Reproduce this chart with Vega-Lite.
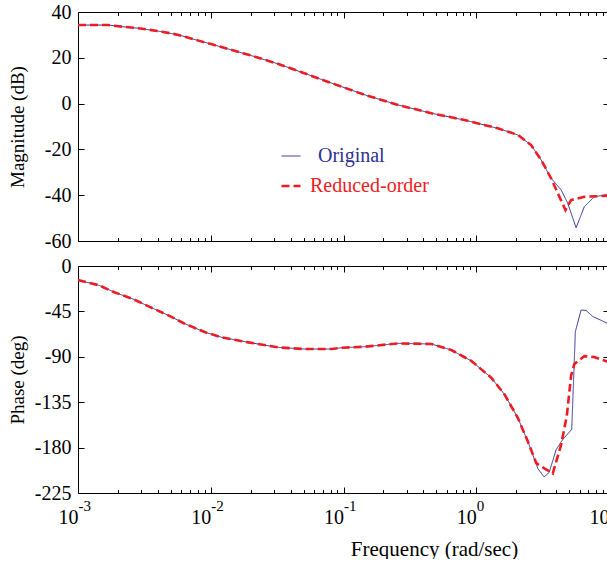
{
  "$schema": "https://vega.github.io/schema/vega-lite/v6.json",
  "padding": {"left": 8, "top": 2, "right": 0, "bottom": 0},
  "background": "white",
  "config": {
    "view": {"stroke": null},
    "font": "Liberation Serif",
    "axis": {
      "grid": false,
      "domainColor": "#000000",
      "tickColor": "#000000",
      "labelColor": "#000000",
      "titleColor": "#000000",
      "labelFont": "Liberation Serif",
      "titleFont": "Liberation Serif",
      "labelFontSize": 20,
      "titleFontSize": 19,
      "titleFontWeight": "normal",
      "domainWidth": 1,
      "tickWidth": 1,
      "labelFlush": false,
      "labelOverlap": false
    }
  },
  "datasets": {
    "mag": [
      {"f": 0.001, "v": 34.3, "s": "Original"},
      {"f": 0.0017, "v": 34.3, "s": "Original"},
      {"f": 0.00214, "v": 33.6, "s": "Original"},
      {"f": 0.00286, "v": 32.9, "s": "Original"},
      {"f": 0.00429, "v": 31.4, "s": "Original"},
      {"f": 0.00572, "v": 30.0, "s": "Original"},
      {"f": 0.00809, "v": 27.5, "s": "Original"},
      {"f": 0.0102, "v": 25.9, "s": "Original"},
      {"f": 0.0144, "v": 23.4, "s": "Original"},
      {"f": 0.0215, "v": 20.5, "s": "Original"},
      {"f": 0.0323, "v": 17.3, "s": "Original"},
      {"f": 0.0483, "v": 13.7, "s": "Original"},
      {"f": 0.0723, "v": 10.0, "s": "Original"},
      {"f": 0.0966, "v": 7.4, "s": "Original"},
      {"f": 0.145, "v": 3.8, "s": "Original"},
      {"f": 0.258, "v": -0.6, "s": "Original"},
      {"f": 0.459, "v": -4.2, "s": "Original"},
      {"f": 0.817, "v": -7.2, "s": "Original"},
      {"f": 1.455, "v": -10.8, "s": "Original"},
      {"f": 2.06, "v": -13.7, "s": "Original"},
      {"f": 2.59, "v": -18.1, "s": "Original"},
      {"f": 3.08, "v": -24.6, "s": "Original"},
      {"f": 3.66, "v": -32.6, "s": "Original"},
      {"f": 4.36, "v": -37.7, "s": "Original"},
      {"f": 4.89, "v": -43.5, "s": "Original"},
      {"f": 5.65, "v": -54.2, "s": "Original"},
      {"f": 6.52, "v": -45.0, "s": "Original"},
      {"f": 7.75, "v": -40.7, "s": "Original"},
      {"f": 10, "v": -39.6, "s": "Original"},
      {"f": 0.001, "v": 34.3, "s": "Reduced-order"},
      {"f": 0.0017, "v": 34.3, "s": "Reduced-order"},
      {"f": 0.00214, "v": 33.6, "s": "Reduced-order"},
      {"f": 0.00286, "v": 32.9, "s": "Reduced-order"},
      {"f": 0.00429, "v": 31.4, "s": "Reduced-order"},
      {"f": 0.00572, "v": 30.0, "s": "Reduced-order"},
      {"f": 0.00809, "v": 27.5, "s": "Reduced-order"},
      {"f": 0.0102, "v": 25.9, "s": "Reduced-order"},
      {"f": 0.0144, "v": 23.4, "s": "Reduced-order"},
      {"f": 0.0215, "v": 20.5, "s": "Reduced-order"},
      {"f": 0.0323, "v": 17.3, "s": "Reduced-order"},
      {"f": 0.0483, "v": 13.7, "s": "Reduced-order"},
      {"f": 0.0723, "v": 10.0, "s": "Reduced-order"},
      {"f": 0.0966, "v": 7.4, "s": "Reduced-order"},
      {"f": 0.145, "v": 3.8, "s": "Reduced-order"},
      {"f": 0.258, "v": -0.6, "s": "Reduced-order"},
      {"f": 0.459, "v": -4.2, "s": "Reduced-order"},
      {"f": 0.817, "v": -7.2, "s": "Reduced-order"},
      {"f": 1.455, "v": -10.8, "s": "Reduced-order"},
      {"f": 2.06, "v": -13.7, "s": "Reduced-order"},
      {"f": 2.59, "v": -18.1, "s": "Reduced-order"},
      {"f": 3.08, "v": -24.6, "s": "Reduced-order"},
      {"f": 3.66, "v": -32.6, "s": "Reduced-order"},
      {"f": 4.12, "v": -39.2, "s": "Reduced-order"},
      {"f": 4.7, "v": -46.5, "s": "Reduced-order"},
      {"f": 5.18, "v": -42.1, "s": "Reduced-order"},
      {"f": 6.52, "v": -40.7, "s": "Reduced-order"},
      {"f": 10, "v": -40.2, "s": "Reduced-order"}
    ],
    "phase": [
      {"f": 0.001, "v": -14, "s": "Original"},
      {"f": 0.00143, "v": -19, "s": "Original"},
      {"f": 0.0019, "v": -26.3, "s": "Original"},
      {"f": 0.00255, "v": -32.3, "s": "Original"},
      {"f": 0.0034, "v": -40, "s": "Original"},
      {"f": 0.0048, "v": -49, "s": "Original"},
      {"f": 0.0064, "v": -57.3, "s": "Original"},
      {"f": 0.0091, "v": -65.7, "s": "Original"},
      {"f": 0.0121, "v": -70.7, "s": "Original"},
      {"f": 0.0192, "v": -75.7, "s": "Original"},
      {"f": 0.0323, "v": -80.7, "s": "Original"},
      {"f": 0.0512, "v": -82.3, "s": "Original"},
      {"f": 0.0812, "v": -82.3, "s": "Original"},
      {"f": 0.0966, "v": -81, "s": "Original"},
      {"f": 0.145, "v": -80, "s": "Original"},
      {"f": 0.258, "v": -76.7, "s": "Original"},
      {"f": 0.459, "v": -77.3, "s": "Original"},
      {"f": 0.649, "v": -83.3, "s": "Original"},
      {"f": 0.916, "v": -94, "s": "Original"},
      {"f": 1.297, "v": -110.7, "s": "Original"},
      {"f": 1.633, "v": -127.3, "s": "Original"},
      {"f": 2.059, "v": -150.7, "s": "Original"},
      {"f": 2.449, "v": -174, "s": "Original"},
      {"f": 2.91, "v": -200.7, "s": "Original"},
      {"f": 3.24, "v": -209, "s": "Original"},
      {"f": 3.54, "v": -204.7, "s": "Original"},
      {"f": 4.0, "v": -182, "s": "Original"},
      {"f": 4.48, "v": -172, "s": "Original"},
      {"f": 5.24, "v": -162, "s": "Original"},
      {"f": 5.58, "v": -65, "s": "Original"},
      {"f": 6.16, "v": -43.7, "s": "Original"},
      {"f": 6.71, "v": -44, "s": "Original"},
      {"f": 7.54, "v": -50, "s": "Original"},
      {"f": 10, "v": -57.5, "s": "Original"},
      {"f": 0.001, "v": -14, "s": "Reduced-order"},
      {"f": 0.00143, "v": -19, "s": "Reduced-order"},
      {"f": 0.0019, "v": -26.3, "s": "Reduced-order"},
      {"f": 0.00255, "v": -32.3, "s": "Reduced-order"},
      {"f": 0.0034, "v": -40, "s": "Reduced-order"},
      {"f": 0.0048, "v": -49, "s": "Reduced-order"},
      {"f": 0.0064, "v": -57.3, "s": "Reduced-order"},
      {"f": 0.0091, "v": -65.7, "s": "Reduced-order"},
      {"f": 0.0121, "v": -70.7, "s": "Reduced-order"},
      {"f": 0.0192, "v": -75.7, "s": "Reduced-order"},
      {"f": 0.0323, "v": -80.7, "s": "Reduced-order"},
      {"f": 0.0512, "v": -82.3, "s": "Reduced-order"},
      {"f": 0.0812, "v": -82.3, "s": "Reduced-order"},
      {"f": 0.0966, "v": -81, "s": "Reduced-order"},
      {"f": 0.145, "v": -80, "s": "Reduced-order"},
      {"f": 0.258, "v": -76.7, "s": "Reduced-order"},
      {"f": 0.459, "v": -77.3, "s": "Reduced-order"},
      {"f": 0.649, "v": -83.3, "s": "Reduced-order"},
      {"f": 0.916, "v": -94, "s": "Reduced-order"},
      {"f": 1.297, "v": -110.7, "s": "Reduced-order"},
      {"f": 1.633, "v": -127.3, "s": "Reduced-order"},
      {"f": 2.059, "v": -150.7, "s": "Reduced-order"},
      {"f": 2.449, "v": -174, "s": "Reduced-order"},
      {"f": 2.83, "v": -195.3, "s": "Reduced-order"},
      {"f": 3.3, "v": -201, "s": "Reduced-order"},
      {"f": 3.77, "v": -205.7, "s": "Reduced-order"},
      {"f": 4.36, "v": -177, "s": "Reduced-order"},
      {"f": 4.81, "v": -148.7, "s": "Reduced-order"},
      {"f": 5.18, "v": -108.7, "s": "Reduced-order"},
      {"f": 5.49, "v": -97, "s": "Reduced-order"},
      {"f": 6.52, "v": -89.3, "s": "Reduced-order"},
      {"f": 7.75, "v": -90.3, "s": "Reduced-order"},
      {"f": 10, "v": -95.3, "s": "Reduced-order"}
    ]
  },
  "spacing": 25,
  "bounds": "flush",
  "resolve": {"scale": {"color": "independent", "strokeDash": "independent", "strokeWidth": "independent"}},
  "vconcat": [
    {
      "width": 531,
      "height": 229,
      "data": {"name": "mag"},
      "layer": [
        {
          "mark": {"type": "line", "clip": true},
          "encoding": {
            "x": {"field": "f", "type": "quantitative", "scale": {"type": "log", "domain": [0.001, 10]},
                  "axis": {"orient": "bottom", "values": [0.001, 0.01, 0.1, 1, 10], "labels": false, "tickSize": -6, "title": null}},
            "y": {"field": "v", "type": "quantitative", "scale": {"domain": [-60, 40]},
                  "axis": {"orient": "left", "values": [-60, -40, -20, 0, 20, 40], "tickSize": -6, "labelPadding": 13, "labelExpr": "'' + datum.value", "title": "Magnitude (dB)", "titleX": -51}},
            "color": {"field": "s", "type": "nominal", "scale": {"domain": ["Original", "Reduced-order"], "range": ["#2E3192", "#ED1C24"]},
                      "legend": {"orient": "none", "legendX": 202, "legendY": 134, "title": null, "symbolType": "stroke", "symbolSize": 361,
                                 "labelFont": "Liberation Serif", "labelFontSize": 20, "labelOffset": 8, "rowPadding": 9, "padding": 0,
                                 "encode": {"labels": {"update": {"fill": {"signal": "datum.value === 'Original' ? '#2E3192' : '#ED1C24'"}, "dx": {"signal": "datum.value === 'Original' ? 8 : 0"}}},
                                            "symbols": {"update": {"strokeWidth": {"signal": "datum.value === 'Original' ? 1 : 2.5"}}}}}},
            "strokeDash": {"field": "s", "type": "nominal", "scale": {"domain": ["Original", "Reduced-order"], "range": [[1, 0], [8, 4]]}},
            "strokeWidth": {"field": "s", "type": "nominal", "scale": {"domain": ["Original", "Reduced-order"], "range": [1, 2.6]}, "legend": null}
          }
        },
        {
          "mark": {"type": "line", "opacity": 0},
          "encoding": {
            "x": {"field": "f", "type": "quantitative", "scale": {"type": "log", "domain": [0.001, 10]},
                  "axis": {"orient": "top", "values": [0.001, 0.01, 0.1, 1, 10], "labels": false, "tickSize": -6, "title": null}},
            "y": {"field": "v", "type": "quantitative", "scale": {"domain": [-60, 40]},
                  "axis": {"orient": "right", "values": [-60, -40, -20, 0, 20, 40], "labels": false, "tickSize": -6, "title": null}}
          }
        },
        {
          "mark": {"type": "line", "opacity": 0},
          "encoding": {
            "x": {"field": "f", "type": "quantitative", "scale": {"type": "log", "domain": [0.001, 10]},
                  "axis": {"orient": "bottom", "values": [0.002, 0.003, 0.004, 0.005, 0.006, 0.007, 0.008, 0.009, 0.02, 0.03, 0.04, 0.05, 0.06, 0.07, 0.08, 0.09, 0.2, 0.3, 0.4, 0.5, 0.6, 0.7, 0.8, 0.9, 2, 3, 4, 5, 6, 7, 8, 9], "labels": false, "domain": false, "tickSize": -3.5, "title": null}},
            "y": {"field": "v", "type": "quantitative", "scale": {"domain": [-60, 40]}, "axis": null}
          }
        },
        {
          "mark": {"type": "line", "opacity": 0},
          "encoding": {
            "x": {"field": "f", "type": "quantitative", "scale": {"type": "log", "domain": [0.001, 10]},
                  "axis": {"orient": "top", "values": [0.002, 0.003, 0.004, 0.005, 0.006, 0.007, 0.008, 0.009, 0.02, 0.03, 0.04, 0.05, 0.06, 0.07, 0.08, 0.09, 0.2, 0.3, 0.4, 0.5, 0.6, 0.7, 0.8, 0.9, 2, 3, 4, 5, 6, 7, 8, 9], "labels": false, "domain": false, "tickSize": -3.5, "title": null}},
            "y": {"field": "v", "type": "quantitative", "scale": {"domain": [-60, 40]}, "axis": null}
          }
        }
      ],
      "resolve": {"axis": {"x": "independent", "y": "independent"}}
    },
    {
      "width": 531,
      "height": 227,
      "data": {"name": "phase"},
      "layer": [
        {
          "mark": {"type": "line", "clip": true},
          "encoding": {
            "x": {"field": "f", "type": "quantitative", "scale": {"type": "log", "domain": [0.001, 10]},
                  "axis": {"orient": "bottom", "values": [0.001, 0.01, 0.1, 1, 10], "labelExpr": "'10'", "labelAlign": "right", "labelBaseline": "top", "labelPadding": 20, "tickSize": -6,
                           "title": "Frequency (rad/sec)", "titleFontSize": 21, "titleX": 356, "titleY": 62, "titleBaseline": "alphabetic"}},
            "y": {"field": "v", "type": "quantitative", "scale": {"domain": [-225, 0]},
                  "axis": {"orient": "left", "values": [-225, -180, -135, -90, -45, 0], "tickSize": -6, "labelPadding": 13, "labelExpr": "'' + datum.value", "title": "Phase (deg)", "titleX": -51}},
            "color": {"field": "s", "type": "nominal", "scale": {"domain": ["Original", "Reduced-order"], "range": ["#2E3192", "#ED1C24"]}, "legend": null},
            "strokeDash": {"field": "s", "type": "nominal", "scale": {"domain": ["Original", "Reduced-order"], "range": [[1, 0], [8, 4]]}, "legend": null},
            "strokeWidth": {"field": "s", "type": "nominal", "scale": {"domain": ["Original", "Reduced-order"], "range": [1, 2.6]}, "legend": null}
          }
        },
        {
          "mark": {"type": "line", "opacity": 0},
          "encoding": {
            "x": {"field": "f", "type": "quantitative", "scale": {"type": "log", "domain": [0.001, 10]},
                  "axis": {"orient": "top", "values": [0.001, 0.01, 0.1, 1, 10], "labels": false, "tickSize": -6, "title": null}},
            "y": {"field": "v", "type": "quantitative", "scale": {"domain": [-225, 0]},
                  "axis": {"orient": "right", "values": [-225, -180, -135, -90, -45, 0], "labels": false, "tickSize": -6, "title": null}}
          }
        },
        {
          "mark": {"type": "line", "opacity": 0},
          "encoding": {
            "x": {"field": "f", "type": "quantitative", "scale": {"type": "log", "domain": [0.001, 10]},
                  "axis": {"orient": "bottom", "values": [0.002, 0.003, 0.004, 0.005, 0.006, 0.007, 0.008, 0.009, 0.02, 0.03, 0.04, 0.05, 0.06, 0.07, 0.08, 0.09, 0.2, 0.3, 0.4, 0.5, 0.6, 0.7, 0.8, 0.9, 2, 3, 4, 5, 6, 7, 8, 9], "labels": false, "domain": false, "tickSize": -3.5, "title": null}},
            "y": {"field": "v", "type": "quantitative", "scale": {"domain": [-225, 0]}, "axis": null}
          }
        },
        {
          "mark": {"type": "line", "opacity": 0},
          "encoding": {
            "x": {"field": "f", "type": "quantitative", "scale": {"type": "log", "domain": [0.001, 10]},
                  "axis": {"orient": "top", "values": [0.002, 0.003, 0.004, 0.005, 0.006, 0.007, 0.008, 0.009, 0.02, 0.03, 0.04, 0.05, 0.06, 0.07, 0.08, 0.09, 0.2, 0.3, 0.4, 0.5, 0.6, 0.7, 0.8, 0.9, 2, 3, 4, 5, 6, 7, 8, 9], "labels": false, "domain": false, "tickSize": -3.5, "title": null}},
            "y": {"field": "v", "type": "quantitative", "scale": {"domain": [-225, 0]}, "axis": null}
          }
        },
        {
          "mark": {"type": "line", "opacity": 0},
          "encoding": {
            "x": {"field": "f", "type": "quantitative", "scale": {"type": "log", "domain": [0.001, 10]},
                  "axis": {"orient": "bottom", "values": [0.001, 0.01, 0.1, 1, 10], "labelExpr": "'' + round(log(datum.value) / LN10)", "labelAlign": "left", "labelBaseline": "top", "labelDx": 5, "labelPadding": 5, "labelFontSize": 15, "ticks": false, "domain": false, "title": null}},
            "y": {"field": "v", "type": "quantitative", "scale": {"domain": [-225, 0]}, "axis": null}
          }
        }
      ],
      "resolve": {"axis": {"x": "independent", "y": "independent"}}
    }
  ]
}
